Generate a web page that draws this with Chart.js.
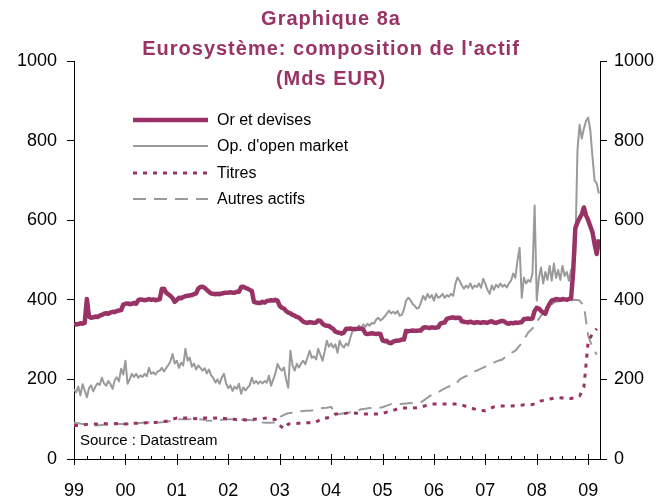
<!DOCTYPE html>
<html><head><meta charset="utf-8">
<script src="https://cdn.jsdelivr.net/npm/chart.js@4.4.1/dist/chart.umd.min.js"></script>
<style>html,body{margin:0;padding:0;background:#fff;}canvas{display:block;}</style>
</head><body>
<canvas id="c" width="666" height="498"></canvas>
<script>
// ---- chart data ----
const titleLines = ['Graphique 8a', "Eurosystème: composition de l'actif", '(Mds EUR)'];
const seriesNames = ['Or et devises', "Op. d'open market", 'Titres', 'Autres actifs'];
const sourceText = 'Source : Datastream';
const yearLabels = ['99','00','01','02','03','04','05','06','07','08','09'];
const firstYear = 1999;
const yTickValues = [0, 200, 400, 600, 800, 1000];

// semi-monthly observations (Jan 1999 -> Mar 2009)
const orDevises = [
340,338,339,341,340,342,402,358,355,356,358,357,360,
362,365,366,365,368,370,369,372,373,374,
388,390,391,389,390,392,390,
399,401,400,399,400,402,400,401,399,400,401,
427,428,418,414,410,404,395,400,
405,404,407,409,410,411,412,414,416,
428,432,433,430,425,420,416,
415,414,415,414,416,417,418,418,419,418,418,420,420,
432,433,430,428,425,422,
395,393,392,392,395,393,
397,398,399,398,400,398,
385,380,378,
372,368,366,362,360,357,355,
350,345,
343,342,344,343,342,343,
348,347,340,336,
335,334,330,327,
320,318,317,315,318,
327,327,328,327,326,327,328,327,326,
315,314,315,316,315,314,315,314,
298,296,297,292,291,295,297,297,
298,300,300,
322,321,322,323,322,322,323,323,
330,331,330,329,331,330,330,331,
340,342,343,
352,354,355,356,354,355,355,
346,345,344,343,345,343,342,344,343,342,344,343,342,345,346,343,342,344,346,347,345,341,340,342,341,343,342,343,344,
352,352,353,352,353,
372,380,378,372,368,365,380,390,
398,400,402,401,400,402,401,400,402,403,
470,580,595,605,615,632,612,600,585,570,540,515,552
];
const openMarket = [
175,168,182,160,188,172,155,178,185,170,182,190,186,204,190,184,196,188,176,198,205,195,
227,212,247,189,200,214,206,214,204,210,206,214,208,229,214,218,212,220,222,229,220,228,236,245,264,240,247,229,242,235,277,247,255,232,240,225,235,
229,222,228,215,225,210,204,192,200,189,205,214,189,178,185,171,182,176,189,164,180,172,179,185,
204,190,196,189,195,190,196,192,209,184,200,215,239,228,222,230,
200,179,272,235,222,239,230,240,247,238,255,272,254,258,250,277,262,247,270,297,282,290,280,288,267,297,285,280,290,285,305,
322,330,325,335,328,338,332,340,335,342,340,350,355,348,352,358,365,373,366,370,
365,372,360,362,375,398,405,400,390,385,378,380,395,410,400,415,405,412,398,415,405,408,415,405,412,408,415,410,
440,456,448,436,428,436,430,441,428,436,432,441,430,453,440,425,415,436,425,438,431,441,433,438,431,441,448,466,455,499,531,405,456,441,450,445,466,637,398,455,481,441,470,450,485,448,491,455,475,450,485,460,470,448,475,481,
520,776,840,805,830,850,858,826,760,700,692,667
];
// monthly observations (Jan 1999 -> Mar 2009)
const titres = [
84,84,86,87,88,88,88,89,88,88,89,88,
88,89,90,90,90,91,91,92,93,94,96,100,
103,103,103,103,102,101,103,103,102,103,103,102,
101,100,99,100,98,99,100,101,102,103,100,99,
85,76,88,88,89,91,91,91,91,96,103,103,
106,113,113,114,116,116,115,114,113,113,113,113,
114,118,121,124,128,128,128,128,129,130,134,136,
138,138,138,138,138,138,137,134,130,127,124,122,
121,126,131,133,133,133,133,134,135,136,136,137,
140,146,148,151,153,154,153,152,152,155,158,180,
295,315,327
];
const autresActifs = [
91,90,88,86,85,84,85,86,87,88,88,88,
88,88,89,90,91,92,92,92,92,93,94,97,
100,100,100,100,100,100,99,97,96,97,98,99,
100,100,100,99,98,98,97,95,92,91,91,92,
105,111,115,116,118,120,121,121,123,125,128,129,
131,114,113,115,116,118,120,125,126,128,128,128,
130,134,138,138,138,139,140,141,141,143,150,158,
164,168,174,180,184,186,200,206,210,218,222,227,
232,236,242,247,250,260,266,272,285,300,318,328,
345,360,372,385,393,396,398,398,398,400,398,385,
310,280,262
];

// ---- styling ----
const MAROON = '#993366';
const GREY = '#9a9a9a';
const FONT = 'Arial, "Liberation Sans", sans-serif';

function toPoints(values, perYear) {
  return values.map((v, i) => ({ x: firstYear + i / perYear, y: v }));
}

const styles = [
  { color: MAROON, width: 4.5, dash: [] },
  { color: GREY, width: 2, dash: [] },
  { color: MAROON, width: 3, dash: [4, 6] },
  { color: GREY, width: 2, dash: [13, 8] }
];

const decorPlugin = {
  id: 'decor',
  afterDraw(chart) {
    const ctx = chart.ctx;
    const xs = chart.scales.x;
    const area = chart.chartArea;
    ctx.save();
    // x-axis tick marks (years major, quarters minor)
    ctx.strokeStyle = '#000';
    ctx.lineWidth = 1;
    const nYears = yearLabels.length;
    for (let q = 0; q <= (nYears - 1) * 4; q++) {
      const v = firstYear + q / 4;
      if (v > xs.max) break;
      const px = Math.round(xs.getPixelForValue(v)) + 0.5;
      ctx.beginPath();
      if (q % 4 === 0) { ctx.moveTo(px, area.bottom - 5); ctx.lineTo(px, area.bottom + 6); }
      else { ctx.moveTo(px, area.bottom - 3); ctx.lineTo(px, area.bottom); }
      ctx.stroke();
    }
    // title
    ctx.fillStyle = MAROON;
    ctx.font = 'bold 20px ' + FONT;
    ctx.textAlign = 'center';
    ctx.textBaseline = 'middle';
    try { ctx.letterSpacing = '1px'; } catch (e) {}
    const titleY = [19, 49, 79];
    titleLines.forEach((t, k) => ctx.fillText(t, 331, titleY[k]));
    try { ctx.letterSpacing = '0px'; } catch (e) {}
    // legend
    const rows = [120, 146, 173, 199];
    ctx.textAlign = 'left';
    ctx.font = '16px ' + FONT;
    seriesNames.forEach((name, k) => {
      const s = styles[k];
      ctx.strokeStyle = s.color;
      ctx.lineWidth = s.width;
      ctx.setLineDash(s.dash);
      ctx.beginPath();
      ctx.moveTo(133, rows[k]);
      ctx.lineTo(208, rows[k]);
      ctx.stroke();
      ctx.setLineDash([]);
      ctx.fillStyle = '#000';
      ctx.fillText(name, 217, rows[k] + 1);
    });
    // source
    ctx.font = '15px ' + FONT;
    ctx.fillText(sourceText, 80, 441);
    ctx.restore();
  }
};

const yAxisCommon = {
  min: 0, max: 1000,
  afterBuildTicks(scale) { scale.ticks = yTickValues.map(v => ({ value: v })); },
  grid: { drawOnChartArea: false, tickLength: 7, color: '#000', lineWidth: 1 },
  border: { display: true, color: '#000', width: 1 },
  ticks: { color: '#000', font: { family: FONT, size: 18 }, callback(v) { return String(v); } }
};

new Chart(document.getElementById('c'), {
  type: 'line',
  data: {
    datasets: [
      { label: seriesNames[0], data: toPoints(orDevises, 24), borderColor: styles[0].color, borderWidth: styles[0].width, order: 0 },
      { label: seriesNames[1], data: toPoints(openMarket, 24), borderColor: styles[1].color, borderWidth: styles[1].width, order: 2 },
      { label: seriesNames[2], data: toPoints(titres, 12), borderColor: styles[2].color, borderWidth: styles[2].width, borderDash: styles[2].dash, order: 1 },
      { label: seriesNames[3], data: toPoints(autresActifs, 12), borderColor: styles[3].color, borderWidth: styles[3].width, borderDash: styles[3].dash, order: 3 }
    ]
  },
  options: {
    responsive: false,
    animation: false,
    devicePixelRatio: 1,
    layout: { padding: { top: 61, left: 0, right: 0, bottom: 0 } },
    elements: { point: { radius: 0 }, line: { tension: 0, borderJoinStyle: 'round', borderCapStyle: 'butt' } },
    plugins: { legend: { display: false }, title: { display: false }, tooltip: { enabled: false } },
    scales: {
      x: {
        type: 'linear', position: 'bottom',
        min: 1999, max: 2009.23,
        afterFit(s) { s.height = 39; },
        afterBuildTicks(scale) { scale.ticks = yearLabels.map((l, k) => ({ value: firstYear + k })); },
        grid: { display: false, drawTicks: false },
        border: { display: true, color: '#000', width: 1 },
        ticks: {
          autoSkip: false, maxRotation: 0, padding: 21, color: '#000',
          font: { family: FONT, size: 18 },
          callback(v) { const k = Math.round(v - firstYear); return Math.abs(v - firstYear - k) < 1e-6 ? yearLabels[k] : ''; }
        }
      },
      y: Object.assign({}, yAxisCommon, { position: 'left', afterFit(s) { s.width = 74; }, ticks: Object.assign({}, yAxisCommon.ticks, { padding: 10 }) }),
      y2: Object.assign({}, yAxisCommon, { position: 'right', afterFit(s) { s.width = 66; }, ticks: Object.assign({}, yAxisCommon.ticks, { padding: 7 }) })
    }
  },
  plugins: [decorPlugin]
});
</script>
</body></html>
